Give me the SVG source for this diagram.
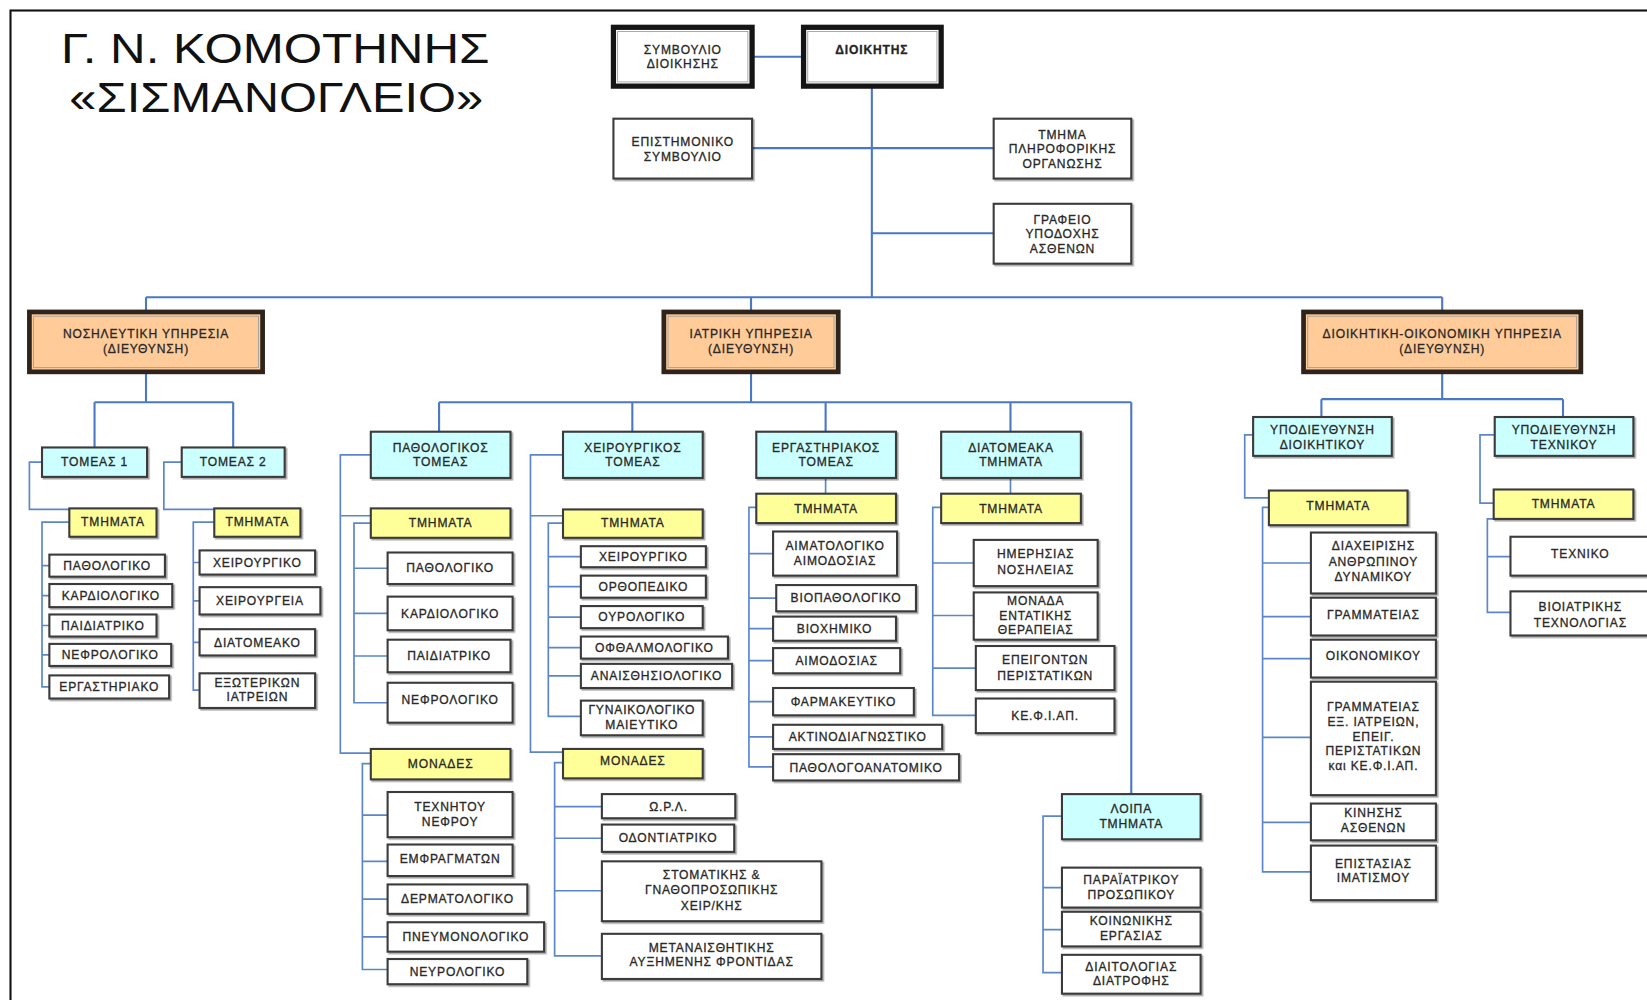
<svg xmlns="http://www.w3.org/2000/svg" width="1647" height="1000" viewBox="0 0 1647 1000">
<style>
.c{fill:none;stroke:#4a78c4;stroke-width:2}
.c2{fill:none;stroke:#5b86cc;stroke-width:1.6}
.w{fill:#fff;stroke:#3a3a3a;stroke-width:2;filter:url(#sh)}
.cy{fill:#ccffff;stroke:#3a3a3a;stroke-width:2;filter:url(#sh)}
.ye{fill:#ffff99;stroke:#3a3a3a;stroke-width:2;filter:url(#sh)}
.or{fill:#ffcc99;stroke:#2e241c;stroke-width:4.5}
.tp{fill:#fff;stroke:#151515;stroke-width:5}
.in{fill:none;stroke:#9a9a9a;stroke-width:0.8}
.t{font-family:"Liberation Sans",Arial,sans-serif;font-size:11.5px;fill:#222;stroke:#333;stroke-width:0.3px;text-anchor:middle;letter-spacing:0.8px}
.b{font-weight:bold}
.title{font-family:"Liberation Sans",Arial,sans-serif;font-size:40px;fill:#111}
</style>
<defs>
<filter id="sh" x="-10%" y="-10%" width="130%" height="140%">
<feDropShadow dx="1.5" dy="1.5" stdDeviation="0.7" flood-color="#000" flood-opacity="0.35"/>
</filter>
</defs>
<rect x="0" y="0" width="1647" height="1000" fill="#fff"/>
<g transform="scale(1.0504)">
<rect x="10" y="10" width="1600" height="1000" fill="none" stroke="#111" stroke-width="2"/>
<g id="title">
<text class="title" x="58" y="60" textLength="408" lengthAdjust="spacingAndGlyphs">Γ. Ν. ΚΟΜΟΤΗΝΗΣ</text>
<text class="title" x="66" y="107" textLength="394" lengthAdjust="spacingAndGlyphs">«ΣΙΣΜΑΝΟΓΛΕΙΟ»</text>
</g>

<g id="connectors">
<path class="c" d="M716,54 H765 M830,82 V283 M716,141 H946 M830,222 H946 M139,283 H1373 M139,283 V297 M715,283 V297 M1373,283 V297"/>
<path class="c" d="M139,354 V383 M90,383 H222 M90,383 V426 M222,383 V426"/>
<path class="c" d="M715,354 V383 M418,383 H1077 M418,383 V411 M602,383 V411 M786,383 V411 M962,383 V411 M1077,383 V756"/>
<path class="c" d="M1373,354 V380 M1258,380 H1488 M1258,380 V397 M1488,380 V397"/>
<path class="c2" d="M40,440 H28 V485 H66"/>
<path class="c2" d="M66,497 H40 V654 H47 M40,538.5 H47 M40,567 H47 M40,595.5 H47 M40,623.5 H47"/>
<path class="c2" d="M173,440 H156 V485 H204"/>
<path class="c2" d="M204,497 H184 V657 H190 M184,535.5 H190 M184,572 H190 M184,611.5 H190"/>
<path class="c2" d="M353,433 H324 V717 H353 M324,491 H353"/>
<path class="c2" d="M353,498 H337 V669 H369 M337,541 H369 M337,584 H369 M337,624.5 H369"/>
<path class="c2" d="M353,727 H345 V923 H369 M345,776 H369 M345,820 H369 M345,856 H369 M345,892 H369"/>
<path class="c2" d="M536,433 H505 V716 H536 M505,491 H536"/>
<path class="c2" d="M536,498 H522 V682 H553 M522,530 H553 M522,558.5 H553 M522,587.5 H553 M522,616.5 H553 M522,643.5 H553"/>
<path class="c2" d="M536,726 H528 V910 H573 M528,768 H573 M528,798 H573 M528,848 H573"/>
<path class="c2" d="M786,455 V470 M720,483 H713 V730 H736 M713,527 H736 M713,569.5 H739 M713,598.5 H736 M713,629 H736 M713,668 H736 M713,701.5 H736"/>
<path class="c2" d="M962,455 V470 M896,483 H888 V681 H929 M888,536 H927 M888,586 H927 M888,636 H929"/>
<path class="c2" d="M1011,777 H993 V926 H1011 M993,845 H1011 M993,885 H1011"/>
<path class="c2" d="M1193,414 H1185 V474 H1208"/>
<path class="c2" d="M1208,483 H1202 V830 H1248 M1202,536 H1248 M1202,587 H1248 M1202,627 H1248 M1202,702 H1248 M1202,783 H1248"/>
<path class="c2" d="M1423,414 H1409 V479 H1422"/>
<path class="c2" d="M1422,494 H1416 V583 H1438 M1416,530 H1438"/>
</g>

<g id="n-symvoulio"><rect class="tp" x="584" y="26" width="132" height="56"/><rect class="in" x="588" y="30" width="124" height="48"/><text class="t"><tspan x="650" y="51">ΣΥΜΒΟΥΛΙΟ</tspan><tspan x="650" y="65">ΔΙΟΙΚΗΣΗΣ</tspan></text></g>
<g id="n-dioikitis"><rect class="tp" x="765" y="26" width="131" height="56"/><rect class="in" x="769" y="30" width="123" height="48"/><text class="t b" x="830" y="51">ΔΙΟΙΚΗΤΗΣ</text></g>
<g id="n-epistimoniko"><rect class="w" x="584" y="113" width="132" height="57"/><text class="t"><tspan x="650" y="139">ΕΠΙΣΤΗΜΟΝΙΚΟ</tspan><tspan x="650" y="153">ΣΥΜΒΟΥΛΙΟ</tspan></text></g>
<g id="n-pliroforiki"><rect class="w" x="946" y="113" width="131" height="57"/><text class="t"><tspan x="1011.5" y="132">ΤΜΗΜΑ</tspan><tspan x="1011.5" y="146">ΠΛΗΡΟΦΟΡΙΚΗΣ</tspan><tspan x="1011.5" y="160">ΟΡΓΑΝΩΣΗΣ</tspan></text></g>
<g id="n-grafeio"><rect class="w" x="946" y="194" width="131" height="57"/><text class="t"><tspan x="1011.5" y="213">ΓΡΑΦΕΙΟ</tspan><tspan x="1011.5" y="227">ΥΠΟΔΟΧΗΣ</tspan><tspan x="1011.5" y="241">ΑΣΘΕΝΩΝ</tspan></text></g>

<g id="n-nosileftiki"><rect class="or" x="28" y="297" width="222" height="57"/><rect class="in" x="32" y="301" width="214" height="49"/><text class="t"><tspan x="139" y="322">ΝΟΣΗΛΕΥΤΙΚΗ ΥΠΗΡΕΣΙΑ</tspan><tspan x="139" y="336">(ΔΙΕΥΘΥΝΣΗ)</tspan></text></g>
<g id="n-iatriki"><rect class="or" x="632" y="297" width="166" height="57"/><rect class="in" x="636" y="301" width="158" height="49"/><text class="t"><tspan x="715" y="322">ΙΑΤΡΙΚΗ ΥΠΗΡΕΣΙΑ</tspan><tspan x="715" y="336">(ΔΙΕΥΘΥΝΣΗ)</tspan></text></g>
<g id="n-dioikitiki"><rect class="or" x="1241" y="297" width="264" height="57"/><rect class="in" x="1245" y="301" width="256" height="49"/><text class="t"><tspan x="1373" y="322">ΔΙΟΙΚΗΤΙΚΗ-ΟΙΚΟΝΟΜΙΚΗ ΥΠΗΡΕΣΙΑ</tspan><tspan x="1373" y="336">(ΔΙΕΥΘΥΝΣΗ)</tspan></text></g>

<g id="n-tomeas1"><rect class="cy" x="40" y="426" width="100" height="28"/><text class="t" x="90" y="444">ΤΟΜΕΑΣ 1</text></g>
<g id="n-tomeas2"><rect class="cy" x="173" y="426" width="98" height="28"/><text class="t" x="222" y="444">ΤΟΜΕΑΣ 2</text></g>
<g id="n-t1-tmimata"><rect class="ye" x="66" y="484" width="83" height="27"/><text class="t" x="107.5" y="501">ΤΜΗΜΑΤΑ</text></g>
<g id="n-t1-pathologiko"><rect class="w" x="47" y="528" width="110" height="21"/><text class="t" x="102" y="542.5">ΠΑΘΟΛΟΓΙΚΟ</text></g>
<g id="n-t1-kardiologiko"><rect class="w" x="47" y="556" width="117" height="22"/><text class="t" x="105.5" y="571">ΚΑΡΔΙΟΛΟΓΙΚΟ</text></g>
<g id="n-t1-paidiatriko"><rect class="w" x="47" y="585" width="102" height="21"/><text class="t" x="98" y="599.5">ΠΑΙΔΙΑΤΡΙΚΟ</text></g>
<g id="n-t1-nefrologiko"><rect class="w" x="47" y="613" width="116" height="21"/><text class="t" x="105" y="627.5">ΝΕΦΡΟΛΟΓΙΚΟ</text></g>
<g id="n-t1-ergastiriako"><rect class="w" x="47" y="643" width="114" height="22"/><text class="t" x="104" y="658">ΕΡΓΑΣΤΗΡΙΑΚΟ</text></g>
<g id="n-t2-tmimata"><rect class="ye" x="204" y="484" width="82" height="27"/><text class="t" x="245" y="501">ΤΜΗΜΑΤΑ</text></g>
<g id="n-t2-xeirourgiko"><rect class="w" x="190" y="524" width="110" height="23"/><text class="t" x="245" y="539.5">ΧΕΙΡΟΥΡΓΙΚΟ</text></g>
<g id="n-t2-xeirourgeia"><rect class="w" x="190" y="559" width="115" height="26"/><text class="t" x="247.5" y="576">ΧΕΙΡΟΥΡΓΕΙΑ</text></g>
<g id="n-t2-diatomeako"><rect class="w" x="190" y="599" width="110" height="25"/><text class="t" x="245" y="615.5">ΔΙΑΤΟΜΕΑΚΟ</text></g>
<g id="n-t2-exoterikon"><rect class="w" x="190" y="641" width="110" height="33"/><text class="t"><tspan x="245" y="654">ΕΞΩΤΕΡΙΚΩΝ</tspan><tspan x="245" y="667">ΙΑΤΡΕΙΩΝ</tspan></text></g>

<g id="n-path-tomeas"><rect class="cy" x="353" y="411" width="133" height="44"/><text class="t"><tspan x="419.5" y="430">ΠΑΘΟΛΟΓΙΚΟΣ</tspan><tspan x="419.5" y="444">ΤΟΜΕΑΣ</tspan></text></g>
<g id="n-path-tmimata"><rect class="ye" x="353" y="484" width="133" height="28"/><text class="t" x="419.5" y="502">ΤΜΗΜΑΤΑ</text></g>
<g id="n-path-pathologiko"><rect class="w" x="369" y="526" width="119" height="30"/><text class="t" x="428.5" y="545">ΠΑΘΟΛΟΓΙΚΟ</text></g>
<g id="n-path-kardiologiko"><rect class="w" x="369" y="568" width="119" height="32"/><text class="t" x="428.5" y="588">ΚΑΡΔΙΟΛΟΓΙΚΟ</text></g>
<g id="n-path-paidiatriko"><rect class="w" x="369" y="609" width="117" height="31"/><text class="t" x="427.5" y="628.5">ΠΑΙΔΙΑΤΡΙΚΟ</text></g>
<g id="n-path-nefrologiko"><rect class="w" x="369" y="650" width="119" height="38"/><text class="t" x="428.5" y="670">ΝΕΦΡΟΛΟΓΙΚΟ</text></g>
<g id="n-path-monades"><rect class="ye" x="353" y="713" width="133" height="29"/><text class="t" x="419.5" y="731">ΜΟΝΑΔΕΣ</text></g>
<g id="n-path-texnitou"><rect class="w" x="369" y="754" width="119" height="43"/><text class="t"><tspan x="428.5" y="772">ΤΕΧΝΗΤΟΥ</tspan><tspan x="428.5" y="786">ΝΕΦΡΟΥ</tspan></text></g>
<g id="n-path-emfragmaton"><rect class="w" x="369" y="804" width="119" height="30"/><text class="t" x="428.5" y="822">ΕΜΦΡΑΓΜΑΤΩΝ</text></g>
<g id="n-path-dermatologiko"><rect class="w" x="369" y="842" width="133" height="28"/><text class="t" x="435.5" y="860">ΔΕΡΜΑΤΟΛΟΓΙΚΟ</text></g>
<g id="n-path-pneumonologiko"><rect class="w" x="369" y="878" width="149" height="28"/><text class="t" x="443.5" y="896">ΠΝΕΥΜΟΝΟΛΟΓΙΚΟ</text></g>
<g id="n-path-neurologiko"><rect class="w" x="369" y="913" width="133" height="24"/><text class="t" x="435.5" y="929">ΝΕΥΡΟΛΟΓΙΚΟ</text></g>

<g id="n-surg-tomeas"><rect class="cy" x="536" y="411" width="133" height="44"/><text class="t"><tspan x="602.5" y="430">ΧΕΙΡΟΥΡΓΙΚΟΣ</tspan><tspan x="602.5" y="444">ΤΟΜΕΑΣ</tspan></text></g>
<g id="n-surg-tmimata"><rect class="ye" x="536" y="485" width="133" height="27"/><text class="t" x="602.5" y="502">ΤΜΗΜΑΤΑ</text></g>
<g id="n-surg-xeirourgiko"><rect class="w" x="553" y="520" width="119" height="20"/><text class="t" x="612.5" y="534">ΧΕΙΡΟΥΡΓΙΚΟ</text></g>
<g id="n-surg-orthopediko"><rect class="w" x="553" y="548" width="119" height="21"/><text class="t" x="612.5" y="562.5">ΟΡΘΟΠΕΔΙΚΟ</text></g>
<g id="n-surg-ourologiko"><rect class="w" x="553" y="577" width="116" height="21"/><text class="t" x="611" y="591.5">ΟΥΡΟΛΟΓΙΚΟ</text></g>
<g id="n-surg-ofthalmologiko"><rect class="w" x="553" y="606" width="140" height="21"/><text class="t" x="623" y="620.5">ΟΦΘΑΛΜΟΛΟΓΙΚΟ</text></g>
<g id="n-surg-anaisthisiologiko"><rect class="w" x="553" y="632" width="144" height="23"/><text class="t" x="625" y="647.5">ΑΝΑΙΣΘΗΣΙΟΛΟΓΙΚΟ</text></g>
<g id="n-surg-gynaikologiko"><rect class="w" x="553" y="667" width="116" height="33"/><text class="t"><tspan x="611" y="680">ΓΥΝΑΙΚΟΛΟΓΙΚΟ</tspan><tspan x="611" y="694">ΜΑΙΕΥΤΙΚΟ</tspan></text></g>
<g id="n-surg-monades"><rect class="ye" x="536" y="713" width="133" height="28"/><text class="t" x="602.5" y="728">ΜΟΝΑΔΕΣ</text></g>
<g id="n-surg-orl"><rect class="w" x="573" y="756" width="127" height="23"/><text class="t" x="636.5" y="772">Ω.Ρ.Λ.</text></g>
<g id="n-surg-odontiatriko"><rect class="w" x="573" y="785" width="126" height="26"/><text class="t" x="636" y="802">ΟΔΟΝΤΙΑΤΡΙΚΟ</text></g>
<g id="n-surg-stomatikis"><rect class="w" x="573" y="820" width="209" height="57"/><text class="t"><tspan x="677.5" y="837">ΣΤΟΜΑΤΙΚΗΣ &amp;</tspan><tspan x="677.5" y="851">ΓΝΑΘΟΠΡΟΣΩΠΙΚΗΣ</tspan><tspan x="677.5" y="866">ΧΕΙΡ/ΚΗΣ</tspan></text></g>
<g id="n-surg-metanaisthitikis"><rect class="w" x="573" y="889" width="209" height="43"/><text class="t"><tspan x="677.5" y="906">ΜΕΤΑΝΑΙΣΘΗΤΙΚΗΣ</tspan><tspan x="677.5" y="920">ΑΥΞΗΜΕΝΗΣ ΦΡΟΝΤΙΔΑΣ</tspan></text></g>

<g id="n-lab-tomeas"><rect class="cy" x="720" y="411" width="133" height="44"/><text class="t"><tspan x="786.5" y="430">ΕΡΓΑΣΤΗΡΙΑΚΟΣ</tspan><tspan x="786.5" y="444">ΤΟΜΕΑΣ</tspan></text></g>
<g id="n-lab-tmimata"><rect class="ye" x="720" y="470" width="133" height="28"/><text class="t" x="786.5" y="488">ΤΜΗΜΑΤΑ</text></g>
<g id="n-lab-aimatologiko"><rect class="w" x="736" y="506" width="118" height="42"/><text class="t"><tspan x="795" y="524">ΑΙΜΑΤΟΛΟΓΙΚΟ</tspan><tspan x="795" y="538">ΑΙΜΟΔΟΣΙΑΣ</tspan></text></g>
<g id="n-lab-viopathologiko"><rect class="w" x="739" y="557" width="133" height="25"/><text class="t" x="805.5" y="573.5">ΒΙΟΠΑΘΟΛΟΓΙΚΟ</text></g>
<g id="n-lab-viochimiko"><rect class="w" x="736" y="587" width="117" height="23"/><text class="t" x="794.5" y="602.5">ΒΙΟΧΗΜΙΚΟ</text></g>
<g id="n-lab-aimodosias"><rect class="w" x="736" y="617" width="121" height="24"/><text class="t" x="796.5" y="633">ΑΙΜΟΔΟΣΙΑΣ</text></g>
<g id="n-lab-farmakeftiko"><rect class="w" x="736" y="655" width="134" height="26"/><text class="t" x="803" y="672">ΦΑΡΜΑΚΕΥΤΙΚΟ</text></g>
<g id="n-lab-aktinodiagnostiko"><rect class="w" x="736" y="690" width="161" height="23"/><text class="t" x="816.5" y="705.5">ΑΚΤΙΝΟΔΙΑΓΝΩΣΤΙΚΟ</text></g>
<g id="n-lab-pathologoanatomiko"><rect class="w" x="736" y="718" width="177" height="25"/><text class="t" x="824.5" y="734.5">ΠΑΘΟΛΟΓΟΑΝΑΤΟΜΙΚΟ</text></g>

<g id="n-dia-tmimata-head"><rect class="cy" x="896" y="411" width="133" height="44"/><text class="t"><tspan x="962.5" y="430">ΔΙΑΤΟΜΕΑΚΑ</tspan><tspan x="962.5" y="444">ΤΜΗΜΑΤΑ</tspan></text></g>
<g id="n-dia-tmimata"><rect class="ye" x="896" y="470" width="133" height="28"/><text class="t" x="962.5" y="488">ΤΜΗΜΑΤΑ</text></g>
<g id="n-dia-imerisias"><rect class="w" x="927" y="514" width="118" height="44"/><text class="t"><tspan x="986" y="531">ΗΜΕΡΗΣΙΑΣ</tspan><tspan x="986" y="546">ΝΟΣΗΛΕΙΑΣ</tspan></text></g>
<g id="n-dia-mey"><rect class="w" x="927" y="564" width="118" height="45"/><text class="t"><tspan x="986" y="576">ΜΟΝΑΔΑ</tspan><tspan x="986" y="590">ΕΝΤΑΤΙΚΗΣ</tspan><tspan x="986" y="604">ΘΕΡΑΠΕΙΑΣ</tspan></text></g>
<g id="n-dia-epeigonton"><rect class="w" x="929" y="615" width="132" height="42"/><text class="t"><tspan x="995" y="632">ΕΠΕΙΓΟΝΤΩΝ</tspan><tspan x="995" y="647">ΠΕΡΙΣΤΑΤΙΚΩΝ</tspan></text></g>
<g id="n-dia-kefiap"><rect class="w" x="929" y="665" width="132" height="33"/><text class="t" x="995" y="685">ΚΕ.Φ.Ι.ΑΠ.</text></g>

<g id="n-loipa"><rect class="cy" x="1011" y="756" width="132" height="43"/><text class="t"><tspan x="1077" y="774">ΛΟΙΠΑ</tspan><tspan x="1077" y="788">ΤΜΗΜΑΤΑ</tspan></text></g>
<g id="n-loipa-paraiatrikou"><rect class="w" x="1011" y="826" width="132" height="38"/><text class="t"><tspan x="1077" y="842">ΠΑΡΑΪΑΤΡΙΚΟΥ</tspan><tspan x="1077" y="856">ΠΡΟΣΩΠΙΚΟΥ</tspan></text></g>
<g id="n-loipa-koinonikis"><rect class="w" x="1011" y="868" width="132" height="33"/><text class="t"><tspan x="1077" y="881">ΚΟΙΝΩΝΙΚΗΣ</tspan><tspan x="1077" y="895">ΕΡΓΑΣΙΑΣ</tspan></text></g>
<g id="n-loipa-diaitologias"><rect class="w" x="1011" y="909" width="132" height="37"/><text class="t"><tspan x="1077" y="924">ΔΙΑΙΤΟΛΟΓΙΑΣ</tspan><tspan x="1077" y="938">ΔΙΑΤΡΟΦΗΣ</tspan></text></g>

<g id="n-ypd-dioikitikou"><rect class="cy" x="1193" y="397" width="132" height="37"/><text class="t"><tspan x="1259" y="413">ΥΠΟΔΙΕΥΘΥΝΣΗ</tspan><tspan x="1259" y="427">ΔΙΟΙΚΗΤΙΚΟΥ</tspan></text></g>
<g id="n-ypd-texnikou"><rect class="cy" x="1423" y="397" width="132" height="37"/><text class="t"><tspan x="1489" y="413">ΥΠΟΔΙΕΥΘΥΝΣΗ</tspan><tspan x="1489" y="427">ΤΕΧΝΙΚΟΥ</tspan></text></g>
<g id="n-adm-tmimata"><rect class="ye" x="1208" y="467" width="132" height="33"/><text class="t" x="1274" y="486">ΤΜΗΜΑΤΑ</text></g>
<g id="n-adm-anthropinou"><rect class="w" x="1248" y="507" width="119" height="58"/><text class="t"><tspan x="1307.5" y="524">ΔΙΑΧΕΙΡΙΣΗΣ</tspan><tspan x="1307.5" y="539">ΑΝΘΡΩΠΙΝΟΥ</tspan><tspan x="1307.5" y="553">ΔΥΝΑΜΙΚΟΥ</tspan></text></g>
<g id="n-adm-grammateias"><rect class="w" x="1248" y="569" width="119" height="36"/><text class="t" x="1307.5" y="589">ΓΡΑΜΜΑΤΕΙΑΣ</text></g>
<g id="n-adm-oikonomikou"><rect class="w" x="1248" y="609" width="119" height="36"/><text class="t" x="1307.5" y="628">ΟΙΚΟΝΟΜΙΚΟΥ</text></g>
<g id="n-adm-grammateias-ex"><rect class="w" x="1248" y="649" width="119" height="108"/><text class="t"><tspan x="1307.5" y="677">ΓΡΑΜΜΑΤΕΙΑΣ</tspan><tspan x="1307.5" y="691">ΕΞ. ΙΑΤΡΕΙΩΝ,</tspan><tspan x="1307.5" y="705">ΕΠΕΙΓ.</tspan><tspan x="1307.5" y="719">ΠΕΡΙΣΤΑΤΙΚΩΝ</tspan><tspan x="1307.5" y="733">και ΚΕ.Φ.Ι.ΑΠ.</tspan></text></g>
<g id="n-adm-kinisis"><rect class="w" x="1248" y="765" width="119" height="35"/><text class="t"><tspan x="1307.5" y="778">ΚΙΝΗΣΗΣ</tspan><tspan x="1307.5" y="792">ΑΣΘΕΝΩΝ</tspan></text></g>
<g id="n-adm-epistasias"><rect class="w" x="1248" y="805" width="119" height="52"/><text class="t"><tspan x="1307.5" y="826">ΕΠΙΣΤΑΣΙΑΣ</tspan><tspan x="1307.5" y="840">ΙΜΑΤΙΣΜΟΥ</tspan></text></g>
<g id="n-tech-tmimata"><rect class="ye" x="1422" y="466" width="133" height="28"/><text class="t" x="1488.5" y="484">ΤΜΗΜΑΤΑ</text></g>
<g id="n-tech-texniko"><rect class="w" x="1438" y="511" width="133" height="37"/><text class="t" x="1504.5" y="531">ΤΕΧΝΙΚΟ</text></g>
<g id="n-tech-vioiatrikis"><rect class="w" x="1438" y="563" width="133" height="42"/><text class="t"><tspan x="1504.5" y="582">ΒΙΟΙΑΤΡΙΚΗΣ</tspan><tspan x="1504.5" y="597">ΤΕΧΝΟΛΟΓΙΑΣ</tspan></text></g>
</g>
</svg>
